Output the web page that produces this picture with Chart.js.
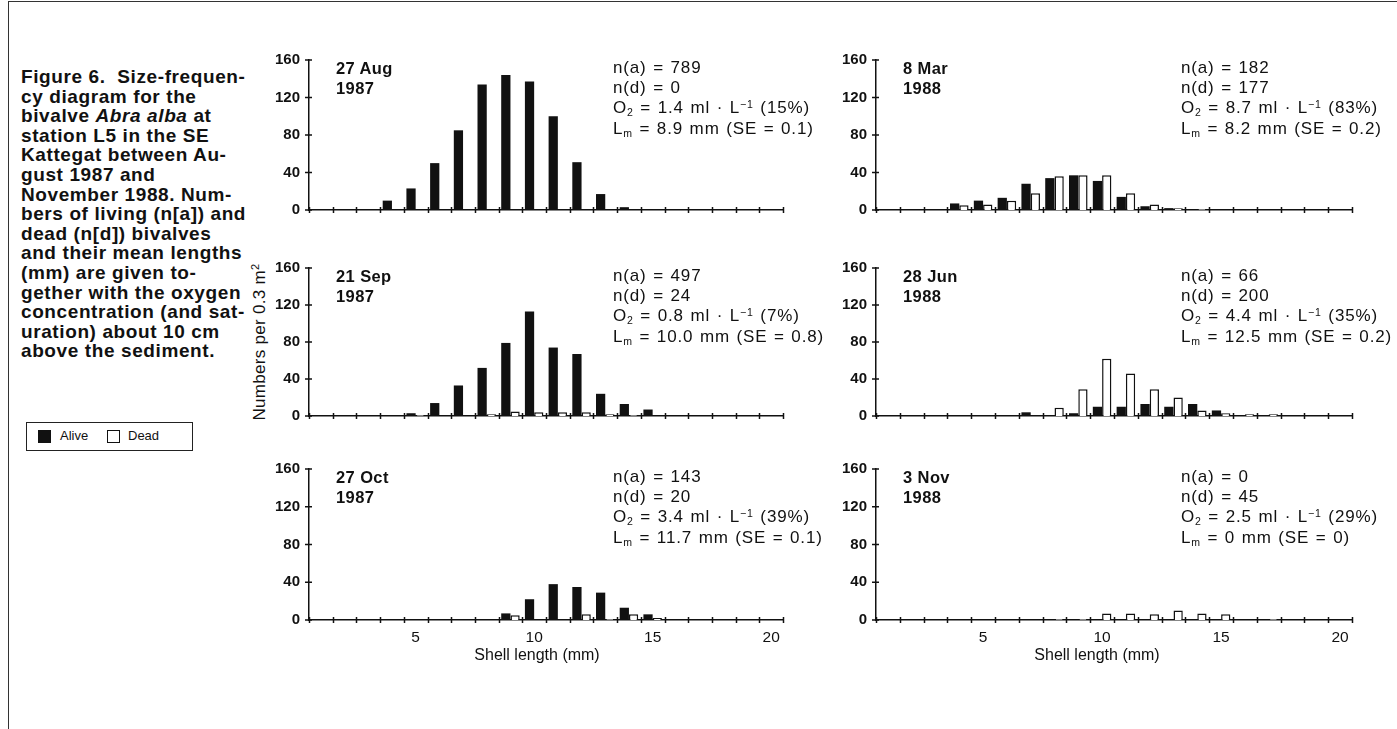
<!DOCTYPE html>
<html>
<head>
<meta charset="utf-8">
<script src="https://cdn.jsdelivr.net/npm/chart.js@4.4.1/dist/chart.umd.min.js"></script>
<style>
  html, body { margin: 0; padding: 0; background: #fff; }
  body { width: 1397px; height: 729px; position: relative; overflow: hidden; color: #111;
         font-family: "Liberation Sans", Arial, Helvetica, sans-serif; }
  canvas { position: absolute; }
  .abs { position: absolute; white-space: nowrap; }
  .caption { left: 21px; top: 67px; font-weight: bold; font-size: 19px; line-height: 19.6px; letter-spacing: 0.6px; white-space: pre; }
  .date { font-weight: bold; font-size: 16.5px; line-height: 20px; letter-spacing: 0.4px; }
  .stats { font-size: 17px; line-height: 20px; letter-spacing: 0.85px; word-spacing: 1px; }
  .stats sub { font-size: 0.62em; vertical-align: baseline; position: relative; top: 0.3em; }
  .stats sup { font-size: 0.62em; vertical-align: baseline; position: relative; top: -0.5em; }
  .xtitle { font-size: 16px; transform: translateX(-50%); }
  .ytitle { font-size: 17px; letter-spacing: 0.3px; transform: translate(-50%, -50%) rotate(-90deg); }
  .ytitle sup { font-size: 0.65em; vertical-align: baseline; position: relative; top: -0.55em; }
  .legend { left: 26px; top: 422px; width: 167px; height: 29px; border: 1.5px solid #222; box-sizing: border-box; }
  .legend .sw { position: absolute; top: 7px; width: 13px; height: 13px; box-sizing: border-box; border: 1.5px solid #111; }
  .legend .lt { position: absolute; top: 5px; font-size: 13px; }
  .frame-left { left: 8px; top: 2px; width: 0; height: 727px; border-left: 1.5px solid #333; }
  .frame-top { left: 8px; top: 1px; width: 1389px; height: 0; border-top: 1.5px solid #333; }
</style>
</head>
<body>
<div class="abs frame-left"></div>
<div class="abs frame-top"></div>

<div class="abs caption">Figure 6.  Size-frequen-
cy diagram for the
bivalve <i>Abra alba</i> at
station L5 in the SE
Kattegat between Au-
gust 1987 and
November 1988. Num-
bers of living (n[a]) and
dead (n[d]) bivalves
and their mean lengths
(mm) are given to-
gether with the oxygen
concentration (and sat-
uration) about 10 cm
above the sediment.</div>

<div class="abs legend">
  <div class="sw" style="left:11px;background:#111;"></div>
  <div class="lt" style="left:33px;">Alive</div>
  <div class="sw" style="left:80px;background:#fff;"></div>
  <div class="lt" style="left:101px;">Dead</div>
</div>

<div class="abs ytitle" style="left:260px;top:342px;">Numbers per 0.3 m<sup>2</sup></div>

<script>
// ---- Data (numbers per 0.3 m^2 for shell-length classes 1..20 mm) ----
const lengthClasses = ["1","2","3","4","5","6","7","8","9","10","11","12","13","14","15","16","17","18","19","20"];
const xTickLabels = ["5","10","15","20"];
const yTickValues = [0, 40, 80, 120, 160];

const aug87Alive = [0,0,0,10,23,50,85,134,144,137,100,51,17,3,1,0,0,0,0,0];
const aug87Dead  = [0,0,0,0,0,0,0,0,0,0,0,0,0,0,0,0,0,0,0,0];
const sep87Alive = [0,0,0,0,3,14,33,52,79,113,74,67,24,13,7,0,0,0,0,0];
const sep87Dead  = [0,0,0,0,1,0,0,2,5,4,4,4,2,1,0,0,0,0,0,0];
const oct87Alive = [0,0,0,0,0,1,1,1,7,22,38,35,29,13,6,1,0,0,0,0];
const oct87Dead  = [0,0,0,0,0,0,0,0,5,0,0,6,1,6,2,0,0,0,0,0];
const mar88Alive = [0,0,0,7,10,13,28,34,37,31,14,4,2,1,0,0,0,0,0,0];
const mar88Dead  = [0,0,0,5,6,10,18,36,37,37,18,6,2,1,0,0,0,0,0,0];
const jun88Alive = [0,0,0,0,0,0,4,0,3,10,10,13,10,13,6,1,0,0,0,0];
const jun88Dead  = [0,0,0,0,0,0,0,9,29,62,46,29,20,6,3,2,2,0,0,0];
const nov88Alive = [0,0,0,0,0,0,0,0,0,0,0,0,0,0,0,0,0,0,0,0];
const nov88Dead  = [0,0,0,0,0,0,0,1,1,7,7,6,10,7,6,0,1,0,0,0];

// Panel annotations
const sampleDates = [["27 Aug","1987"],["21 Sep","1987"],["27 Oct","1987"],["8 Mar","1988"],["28 Jun","1988"],["3 Nov","1988"]];
const nAlive = [789, 497, 143, 182, 66, 0];
const nDead  = [0, 24, 20, 177, 200, 45];
const oxygen = ["1.4", "0.8", "3.4", "8.7", "4.4", "2.5"];
const saturation = ["15%", "7%", "39%", "83%", "35%", "29%"];
const meanLength = ["8.9", "10.0", "11.7", "8.2", "12.5", "0"];
const meanLengthSE = ["0.1", "0.8", "0.1", "0.2", "0.2", "0"];

const aliveSeries = [aug87Alive, sep87Alive, oct87Alive, mar88Alive, jun88Alive, nov88Alive];
const deadSeries  = [aug87Dead, sep87Dead, oct87Dead, mar88Dead, jun88Dead, nov88Dead];

// ---- Layout ----
const colAxisX = [309, 876];
const colPlotW = [474, 476];
const rowTop = [60, 268, 469];
const rowPlotH = [152, 150, 151];
const dateX = [336, 903];
const statsX = [613, 1181];
const xTitleX = [537, 1097];

const INK = '#111';
const Y_W = 60, PAD_T = 12, PAD_R = 14;

const tickMarks = {
  id: 'tickMarks',
  afterDraw(chart) {
    const ctx = chart.ctx, xs = chart.scales.x, ys = chart.scales.y;
    ctx.save();
    ctx.strokeStyle = INK; ctx.lineWidth = 1.5;
    const n = xs.getLabels().length;
    const step = (xs.right - xs.left) / n;
    for (let i = 0; i <= n; i++) {
      const px = Math.round(xs.left + i * step) + 0.5;
      ctx.beginPath(); ctx.moveTo(px, ys.bottom - 3); ctx.lineTo(px, ys.bottom + 3); ctx.stroke();
    }
    ys.ticks.forEach(t => {
      const py = ys.getPixelForValue(t.value);
      ctx.beginPath(); ctx.moveTo(xs.left - 4, py); ctx.lineTo(xs.left + 3, py); ctx.stroke();
    });
    ctx.restore();
  }
};

const nz = arr => arr.map(v => (v > 0 ? v : null));

for (let p = 0; p < 6; p++) {
  const col = p < 3 ? 0 : 1;
  const row = p % 3;
  const bottom = row === 2;
  const xH = bottom ? 34 : 8;
  const cw = Y_W + colPlotW[col] + PAD_R;
  const ch = PAD_T + rowPlotH[row] + xH;

  const cv = document.createElement('canvas');
  cv.width = cw; cv.height = ch;
  cv.style.left = (colAxisX[col] - Y_W) + 'px';
  cv.style.top = (rowTop[row] - PAD_T) + 'px';
  cv.style.width = cw + 'px'; cv.style.height = ch + 'px';
  document.body.appendChild(cv);

  new Chart(cv, {
    type: 'bar',
    data: {
      labels: lengthClasses,
      datasets: [
        { label: 'Alive', data: nz(aliveSeries[p]), backgroundColor: INK, borderWidth: 0 },
        { label: 'Dead', data: nz(deadSeries[p]), backgroundColor: '#fff', borderColor: INK, borderWidth: 1.5 }
      ]
    },
    options: {
      responsive: false, animation: false, devicePixelRatio: 1,
      layout: { padding: { top: PAD_T, right: PAD_R, left: 0, bottom: 0 } },
      datasets: { bar: { categoryPercentage: 0.78, barPercentage: 1.0, grouped: true } },
      plugins: { legend: { display: false }, tooltip: { enabled: false }, title: { display: false } },
      scales: {
        x: {
          type: 'category', offset: true,
          grid: { display: false },
          border: { display: true, color: INK, width: 1.5 },
          ticks: {
            display: bottom, autoSkip: false, maxRotation: 0, padding: 0, color: INK,
            font: { family: '"Liberation Sans", Arial, sans-serif', size: 15.5 },
            callback: function (v, i) { const l = lengthClasses[i]; return xTickLabels.includes(l) ? l : ''; }
          },
          afterFit: s => { s.height = xH; }
        },
        y: {
          min: 0, max: 160,
          grid: { display: false },
          border: { display: true, color: INK, width: 1.5 },
          ticks: {
            stepSize: 20, padding: 1, color: INK,
            font: { family: '"Liberation Sans", Arial, sans-serif', size: 15, weight: 'bold' },
            callback: v => (yTickValues.includes(v) ? String(v) : '')
          },
          afterFit: s => { s.width = Y_W; }
        }
      }
    },
    plugins: [tickMarks]
  });

  const d = document.createElement('div');
  d.className = 'abs date';
  d.style.left = dateX[col] + 'px';
  d.style.top = (rowTop[row] - 2) + 'px';
  d.innerHTML = sampleDates[p][0] + '<br>' + sampleDates[p][1];
  document.body.appendChild(d);

  const s = document.createElement('div');
  s.className = 'abs stats';
  s.style.left = statsX[col] + 'px';
  s.style.top = (rowTop[row] - 2) + 'px';
  s.innerHTML =
    'n(a) = ' + nAlive[p] + '<br>' +
    'n(d) = ' + nDead[p] + '<br>' +
    'O<sub>2</sub> = ' + oxygen[p] + ' ml · L<sup>−1</sup> (' + saturation[p] + ')<br>' +
    'L<sub>m</sub> = ' + meanLength[p] + ' mm (SE = ' + meanLengthSE[p] + ')';
  document.body.appendChild(s);

  if (bottom) {
    const t = document.createElement('div');
    t.className = 'abs xtitle';
    t.style.left = xTitleX[col] + 'px';
    t.style.top = '646px';
    t.textContent = 'Shell length (mm)';
    document.body.appendChild(t);
  }
}
</script>
</body>
</html>
